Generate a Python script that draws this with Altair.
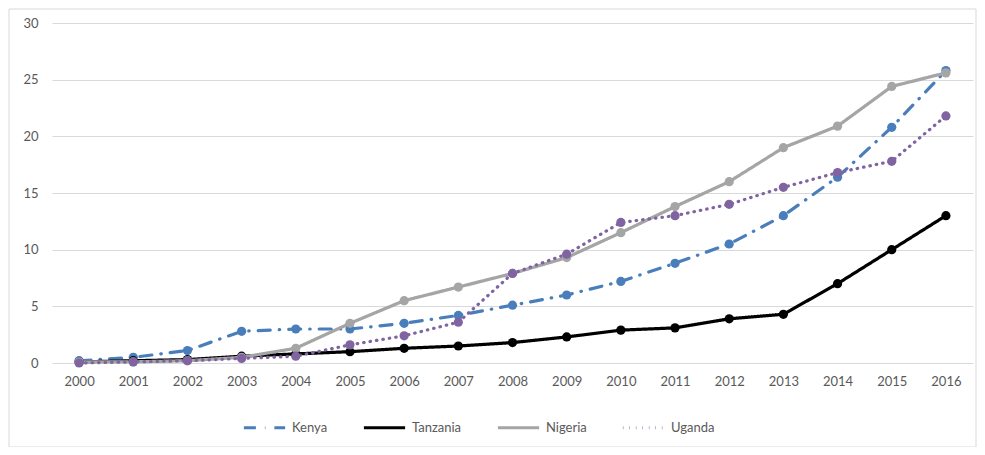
import altair as alt
import pandas as pd

years = [str(y) for y in range(2000, 2017)]
countries = ["Kenya", "Tanzania", "Nigeria", "Uganda"]
kenya = [0.2, 0.5, 1.1, 2.8, 3.0, 3.0, 3.5, 4.2, 5.1, 6.0, 7.2, 8.8, 10.5, 13.0, 16.4, 20.8, 25.8]
tanzania = [0.1, 0.2, 0.3, 0.6, 0.8, 1.0, 1.3, 1.5, 1.8, 2.3, 2.9, 3.1, 3.9, 4.3, 7.0, 10.0, 13.0]
nigeria = [0.1, 0.1, 0.2, 0.5, 1.3, 3.5, 5.5, 6.7, 7.9, 9.3, 11.5, 13.8, 16.0, 19.0, 20.9, 24.4, 25.6]
uganda = [0.0, 0.1, 0.2, 0.4, 0.6, 1.6, 2.4, 3.6, 7.9, 9.6, 12.4, 13.0, 14.0, 15.5, 16.8, 17.8, 21.8]

series = {"Kenya": kenya, "Tanzania": tanzania, "Nigeria": nigeria, "Uganda": uganda}
rows = []
for c in countries:
    for y, v in zip(years, series[c]):
        rows.append({"year": y, "country": c, "value": v})
df = pd.DataFrame(rows)

colors = ["#4a7ebb", "#000000", "#a5a5a5", "#8064a2"]
dashes = [[12, 9, 0.5, 9], [1, 0], [1, 0], [0.5, 6]]

FONT = "Lato"
LABEL = "#595959"

lines = alt.Chart(df).mark_line(
    strokeWidth=3.2, strokeCap="round", strokeJoin="round",
    point=alt.OverlayMarkDef(filled=True, size=85, opacity=1),
).encode(
    x=alt.X("year:O", scale=alt.Scale(type="point", padding=0.5),
            axis=alt.Axis(title=None, labelAngle=0, ticks=False, domain=False,
                          labelPadding=12, labelFont=FONT, labelFontSize=13,
                          labelColor=LABEL, grid=False)),
    y=alt.Y("value:Q", scale=alt.Scale(domain=[0, 30], nice=False),
            axis=alt.Axis(title=None, values=[0, 5, 10, 15, 20, 25, 30], ticks=False,
                          domain=False, labelPadding=14, labelFont=FONT,
                          labelFontSize=13, labelColor=LABEL, gridColor="#d9d9d9",
                          gridWidth=1)),
    color=alt.Color("country:N", scale=alt.Scale(domain=countries, range=colors),
                    sort=countries,
                    legend=alt.Legend(title=None, orient="none", legendX=190, legendY=382,
                                      direction="horizontal",
                                      symbolType="stroke", symbolSize=1700,
                                      symbolStrokeWidth=3.2, labelFont=FONT,
                                      labelFontSize=13, labelColor=LABEL,
                                      columnPadding=29, labelOffset=5)),
    strokeDash=alt.StrokeDash("country:N", scale=alt.Scale(domain=countries, range=dashes),
                              sort=countries, legend=None),
)

border = alt.Chart(pd.DataFrame({"a": [0]})).mark_rect(
    filled=False, stroke="#d9d9d9", strokeWidth=1, clip=False
).encode(
    x=alt.value(-43), x2=alt.value(924), y=alt.value(-14), y2=alt.value(424)
)

chart = alt.layer(border, lines).properties(
    width=921, height=340,
    padding={"left": 44, "top": 15, "right": 4, "bottom": 84},
    autosize=alt.AutoSizeParams(type="none"),
).configure_view(stroke=None)

chart.save("out.html", embed_options={"renderer": "svg", "actions": False})
